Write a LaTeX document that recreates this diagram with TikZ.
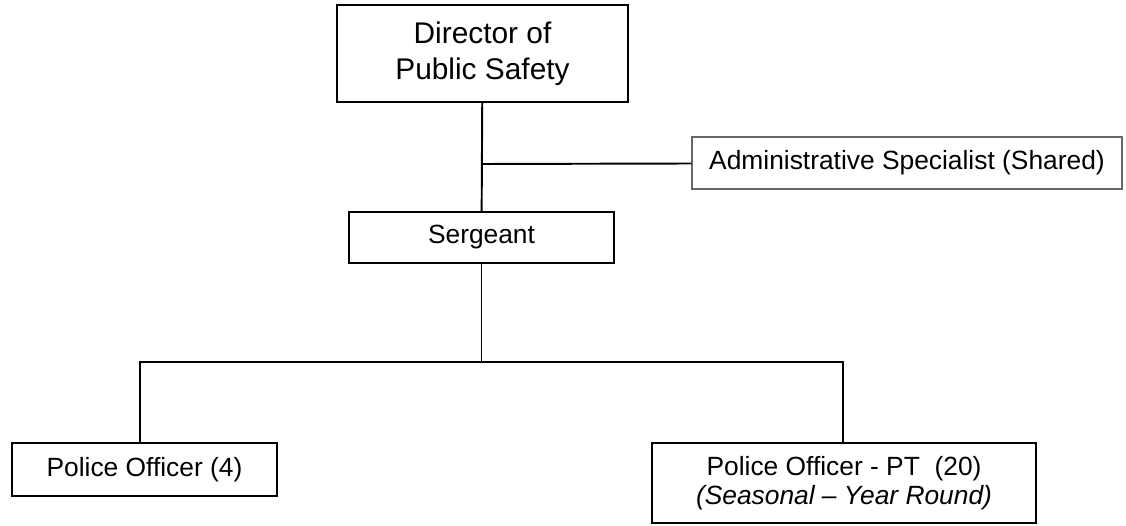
\documentclass[tikz,border=0pt]{standalone}
\usepackage{fontspec}
\setmainfont{Liberation Sans}
\usetikzlibrary{positioning}

\begin{document}
\begin{tikzpicture}
    [
    post/.style={rectangle,draw,line width=0.9pt,inner sep=0pt,align=center,font=\fontsize{15}{16.5}\selectfont},
    link/.style={line width=1.1pt},
    ]
    \useasboundingbox (0,0) rectangle (22.52,-10.52);
    \node (dir) at (9.65,-1.07) [post,line width=1.2pt,minimum width=5.82cm,minimum height=1.94cm,font=\fontsize{17}{20.5}\selectfont] {Director of\\Public Safety};
    \node (admin) at (18.14,-3.26) [post,draw=black!60,line width=0.7pt,minimum width=8.6cm,minimum height=1.04cm] {Administrative Specialist (Shared)};
    \node (serg) at (9.63,-4.75) [post,minimum width=5.3cm,minimum height=1.02cm] {Sergeant};
    \node (police) at (2.89,-9.39) [post,minimum width=5.3cm,minimum height=1.06cm] {Police Officer (4)};
    \node (pt) at (16.88,-9.66) [post,minimum width=7.68cm,minimum height=1.6cm] {Police Officer - PT\ \ (20)\\\textit{(Seasonal -- Year Round)}};

    \coordinate (fork) at (9.65,-3.28);
    \coordinate (jl) at (2.8,-7.24);
    \coordinate (jr) at (16.86,-7.24);
    \draw [link] (dir) to (serg);
    \draw [link] (fork) to (admin);
    \draw [link] (serg.south) to (serg.south |- jl);
    \draw [link] (police.north -| jl) -- (jl) -- (jr) -- (pt.north -| jr);
\end{tikzpicture}
\end{document}
